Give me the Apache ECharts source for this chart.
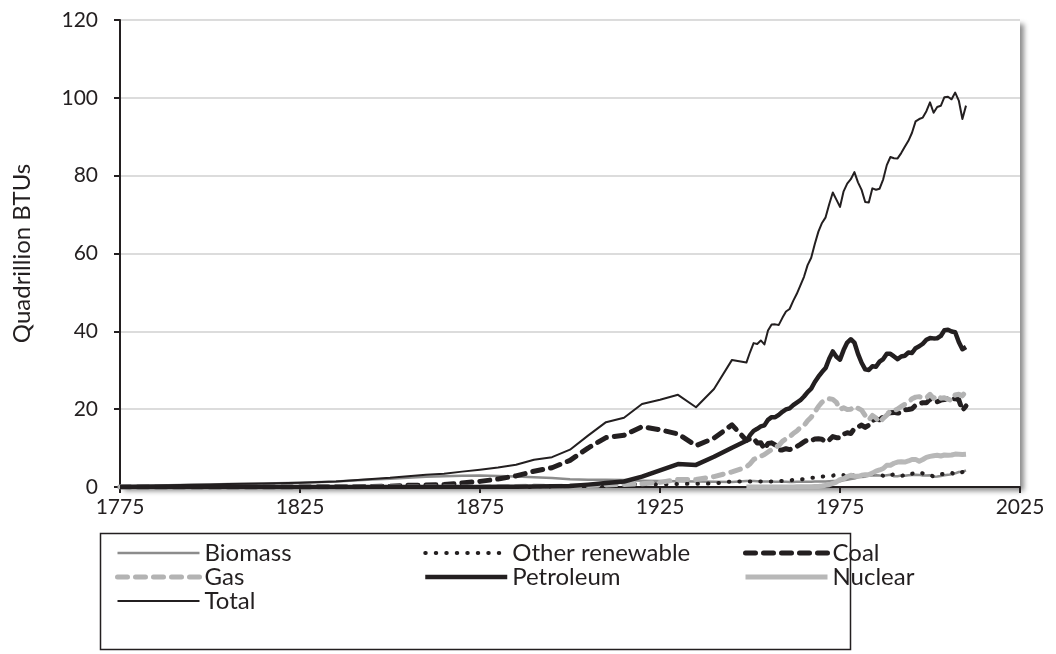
<!DOCTYPE html>
<html>
<head>
<meta charset="utf-8">
<script src="https://cdn.jsdelivr.net/npm/echarts@6/dist/echarts.min.js"></script>
<style>
  html, body { margin: 0; padding: 0; background: #fff; }
  #chart { width: 1056px; height: 654px; }
</style>
</head>
<body>
<div id="chart"></div>
<script>
// years: sparse before 1949, annual after
const years = [
  1775, 1785, 1795, 1800, 1805, 1815, 1825, 1835, 1845,
  1850, 1855, 1860, 1865, 1870, 1875, 1880, 1885, 1890, 1895,
  1900, 1905, 1910, 1915, 1920, 1925, 1930, 1935, 1940, 1945,
  1949, 1950, 1951, 1952, 1953, 1954, 1955, 1956, 1957, 1958,
  1959, 1960, 1961, 1962, 1963, 1964, 1965, 1966, 1967, 1968,
  1969, 1970, 1971, 1972, 1973, 1974, 1975, 1976, 1977, 1978,
  1979, 1980, 1981, 1982, 1983, 1984, 1985, 1986, 1987, 1988,
  1989, 1990, 1991, 1992, 1993, 1994, 1995, 1996, 1997, 1998,
  1999, 2000, 2001, 2002, 2003, 2004, 2005, 2006, 2007, 2008,
  2009, 2010
]

const biomass = [
  0.25, 0.41, 0.56, 0.65, 0.75, 0.90, 1.10, 1.39, 1.92,
  2.14, 2.36, 2.64, 2.77, 2.89, 2.97, 2.85, 2.68, 2.52, 2.31,
  2.02, 1.84, 1.86, 1.77, 1.61, 1.54, 1.46, 1.42, 1.36, 1.26,
  1.55, 1.56, 1.54, 1.47, 1.42, 1.39, 1.42, 1.42, 1.33, 1.32,
  1.35, 1.32, 1.30, 1.30, 1.32, 1.34, 1.34, 1.37, 1.34, 1.42,
  1.44, 1.43, 1.43, 1.50, 1.53, 1.54, 1.50, 1.71, 1.84, 2.04,
  2.15, 2.48, 2.60, 2.66, 2.90, 2.97, 3.02, 2.93, 2.88, 3.02,
  3.16, 2.74, 2.78, 2.93, 2.91, 3.03, 3.10, 3.16, 3.11, 2.93,
  2.96, 3.01, 2.62, 2.70, 2.81, 3.01, 3.12, 3.28, 3.50, 3.85,
  3.90, 4.27
]

const otherRenewable = [
  0, 0, 0, 0, 0, 0, 0, 0, 0,
  0, 0, 0, 0, 0, 0, 0, 0, 0.02, 0.09,
  0.25, 0.39, 0.54, 0.66, 0.74, 0.70, 0.77, 0.85, 0.88, 1.44,
  1.43, 1.42, 1.42, 1.47, 1.41, 1.36, 1.36, 1.44, 1.52, 1.59,
  1.55, 1.61, 1.66, 1.82, 1.78, 1.89, 2.06, 2.07, 2.35, 2.36,
  2.66, 2.65, 2.84, 2.90, 2.90, 3.23, 3.23, 3.05, 2.41, 3.00,
  3.00, 2.95, 2.82, 3.34, 3.62, 3.55, 3.17, 3.29, 2.87, 2.58,
  3.10, 3.23, 3.20, 2.83, 3.09, 2.87, 3.40, 3.78, 3.84, 3.49,
  3.48, 3.10, 2.69, 3.18, 3.34, 3.29, 3.39, 3.63, 3.21, 3.47,
  3.86, 3.84
]

const coal = [
  0, 0, 0, 0.01, 0.01, 0.01, 0.02, 0.05, 0.13,
  0.22, 0.42, 0.52, 0.63, 1.05, 1.44, 2.05, 2.84, 4.06, 4.95,
  6.84, 10.00, 12.71, 13.29, 15.50, 14.71, 13.64, 10.63, 12.54, 15.97,
  11.98, 12.35, 12.55, 11.31, 11.37, 9.72, 11.17, 11.35, 10.82, 9.53,
  9.52, 9.84, 9.62, 9.91, 10.41, 10.96, 11.58, 12.14, 11.91, 12.33,
  12.38, 12.27, 11.60, 12.08, 12.97, 12.66, 12.66, 13.58, 13.92, 13.77,
  15.04, 15.42, 15.91, 15.32, 15.89, 17.07, 17.48, 17.26, 18.01, 18.85,
  19.07, 19.17, 18.99, 19.12, 19.84, 19.91, 20.09, 21.00, 21.45, 21.66,
  21.62, 22.58, 21.91, 21.90, 22.32, 22.47, 22.80, 22.45, 22.75, 22.39,
  19.69, 20.82
]

const gas = [
  0, 0, 0, 0, 0, 0, 0, 0, 0,
  0, 0, 0, 0, 0, 0, 0, 0.14, 0.26, 0.15,
  0.25, 0.37, 0.54, 0.67, 0.81, 1.19, 1.93, 1.92, 2.67, 3.87,
  5.15, 5.97, 7.05, 7.55, 7.91, 8.33, 9.00, 9.61, 10.19, 10.66,
  11.72, 12.39, 12.93, 13.73, 14.40, 15.29, 15.77, 17.00, 17.94, 19.21,
  20.68, 21.80, 22.47, 22.70, 22.51, 21.73, 19.95, 20.35, 19.93, 20.00,
  20.67, 20.24, 19.75, 18.36, 17.22, 18.39, 17.70, 16.59, 17.64, 18.45,
  19.60, 19.60, 20.03, 20.71, 21.23, 21.73, 22.67, 23.09, 23.22, 22.83,
  22.91, 23.82, 22.77, 23.56, 22.83, 22.92, 22.57, 22.24, 23.66, 23.84,
  23.42, 24.65
]

const petroleum = [
  0, 0, 0, 0, 0, 0, 0, 0, 0,
  0, 0, 0.003, 0.004, 0.011, 0.011, 0.096, 0.04, 0.156, 0.168,
  0.229, 0.61, 1.007, 1.418, 2.676, 4.28, 5.897, 5.675, 7.76, 10.11,
  11.88, 13.32, 14.43, 14.96, 15.56, 15.84, 17.26, 17.94, 17.93, 18.53,
  19.32, 19.92, 20.22, 21.05, 21.70, 22.30, 23.25, 24.40, 25.28, 26.98,
  28.34, 29.52, 30.56, 32.95, 34.84, 33.46, 32.73, 35.18, 37.12, 37.97,
  37.12, 34.21, 31.93, 30.23, 30.05, 31.05, 30.92, 32.20, 32.87, 34.22,
  34.21, 33.55, 32.85, 33.53, 33.74, 34.56, 34.44, 35.68, 36.16, 36.82,
  37.84, 38.26, 38.19, 38.22, 38.81, 40.29, 40.39, 39.96, 39.77, 37.28,
  35.40, 35.97
]

const nuclear = [
  null, null, null, null, null, null, null, null, null,
  null, null, null, null, null, null, null, null, null, null,
  null, null, null, null, null, null, null, null, null, null,
  0, 0, 0, 0, 0, 0, 0, 0, 0, 0,
  0, 0.01, 0.02, 0.03, 0.04, 0.04, 0.04, 0.06, 0.09, 0.14,
  0.15, 0.24, 0.41, 0.58, 0.91, 1.27, 1.90, 2.11, 2.70, 3.02,
  2.78, 2.74, 3.01, 3.13, 3.20, 3.55, 4.08, 4.38, 4.75, 5.59,
  5.60, 6.10, 6.42, 6.48, 6.41, 6.69, 7.08, 7.09, 6.60, 7.07,
  7.61, 7.86, 8.03, 8.15, 7.96, 8.22, 8.16, 8.22, 8.46, 8.43,
  8.36, 8.43
]

const total = [
  0.25, 0.41, 0.56, 0.66, 0.76, 0.91, 1.12, 1.44, 2.05,
  2.36, 2.78, 3.16, 3.40, 3.95, 4.43, 5.00, 5.71, 7.01, 7.66,
  9.59, 13.21, 16.66, 17.81, 21.34, 22.41, 23.69, 20.50, 25.20, 32.66,
  31.98, 34.62, 36.97, 36.75, 37.66, 36.64, 40.21, 41.75, 41.79, 41.65,
  43.47, 45.09, 45.74, 47.83, 49.64, 51.82, 54.02, 57.01, 58.91, 62.42,
  65.62, 67.84, 69.29, 72.67, 75.68, 73.84, 71.97, 75.98, 77.96, 79.09,
  80.90, 78.29, 76.34, 73.25, 73.10, 76.74, 76.39, 76.65, 79.05, 82.71,
  84.79, 84.49, 84.43, 85.80, 87.42, 88.96, 91.03, 93.94, 94.55, 94.93,
  96.57, 98.83, 96.17, 97.65, 97.96, 100.16, 100.28, 99.62, 101.36, 99.30,
  94.56, 98.00
]

const font = 'Lato, "Open Sans", sans-serif'
const ink = '#231f20'

function pairs(vals) {
  return years.map((y, i) => [y, vals[i]]).filter(p => p[1] !== null)
}

function line(name, vals, color, width, type, cap) {
  return {
    name: name,
    type: 'line',
    data: pairs(vals),
    symbol: 'none',
    animation: false,
    lineStyle: { color: color, width: width, type: type || 'solid', cap: cap || 'butt', join: 'round' },
    itemStyle: { color: color }
  }
}

const chart = echarts.init(document.getElementById('chart'))

const legendText = { fontFamily: font, fontSize: 24, color: ink }
function legendCol(names, left) {
  return {
    data: names,
    orient: 'vertical',
    left: left,
    top: 536,
    itemWidth: 82,
    itemHeight: 12,
    itemGap: 0,
    selectedMode: false,
    textStyle: legendText,
    itemStyle: { opacity: 0 },       // hide the marker dot, keep the line
    lineStyle: { width: 'inherit' }
  }
}

chart.setOption({
  backgroundColor: '#fff',
  grid: {
    left: 120, right: 36, top: 20, bottom: 167,
    outerBoundsMode: 'none',
    show: true,
    backgroundColor: '#fff',
    borderWidth: 0,
    shadowColor: 'rgba(0,0,0,0.45)',
    shadowBlur: 5,
    shadowOffsetX: 4,
    shadowOffsetY: 4
  },
  legend: [
    legendCol(['Biomass', 'Gas', 'Total'], 110),
    legendCol(['Other renewable', 'Petroleum'], 418),
    legendCol(['Coal', 'Nuclear'], 738)
  ],
  graphic: [{
    type: 'rect',
    left: 98, top: 531,
    shape: { width: 750, height: 116 },
    style: { fill: 'none', stroke: ink, lineWidth: 1.5 },
    silent: true
  }],
  xAxis: {
    type: 'value',
    min: 1775, max: 2025, interval: 50,
    axisLine: { lineStyle: { color: ink, width: 2 } },
    axisTick: { show: true, length: 6, lineStyle: { color: ink, width: 2 } },
    splitLine: { show: false },
    axisLabel: {
      fontFamily: font, fontSize: 21, color: ink, margin: 10,
      align: 'center', hideOverlap: false,
      formatter: v => String(v)
    }
  },
  yAxis: {
    type: 'value',
    min: 0, max: 120, interval: 20,
    name: 'Quadrillion BTUs',
    nameLocation: 'middle',
    nameRotate: 90,
    nameGap: 86,
    nameTextStyle: { fontFamily: font, fontSize: 24, color: ink },
    axisLine: { show: true, lineStyle: { color: ink, width: 2 } },
    axisTick: { show: true, length: 6, lineStyle: { color: ink, width: 2 } },
    splitLine: { lineStyle: { color: '#d0d0d0', width: 1.5 } },
    axisLabel: { fontFamily: font, fontSize: 21, color: ink, margin: 22 }
  },
  series: [
    line('Biomass', biomass, '#8c8c8c', 2.5),
    line('Other renewable', otherRenewable, ink, 4, [0.5, 10], 'round'),
    line('Coal', coal, ink, 5, [10, 8], 'round'),
    line('Gas', gas, '#b3b3b3', 5, [10, 8], 'round'),
    line('Petroleum', petroleum, ink, 4.5),
    line('Nuclear', nuclear, '#b8b8b8', 5),
    line('Total', total, ink, 2)
  ]
})
</script>
</body>
</html>
